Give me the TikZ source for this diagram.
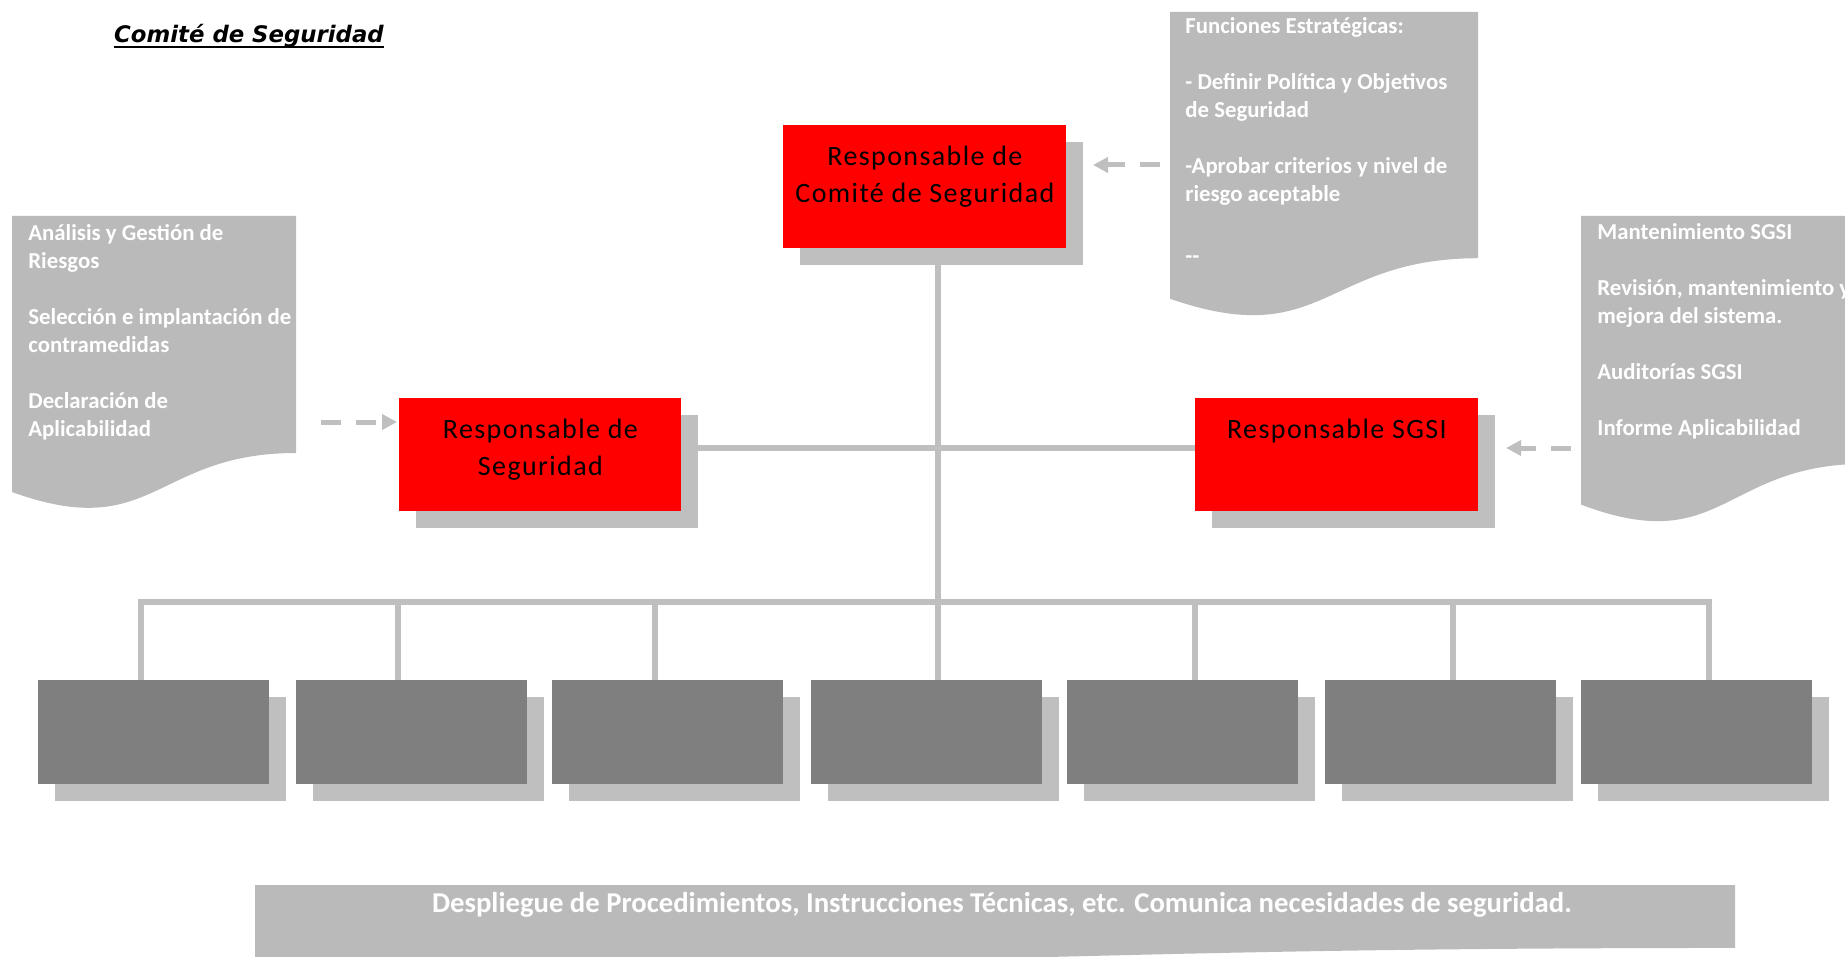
\documentclass[tikz,border=0pt]{standalone}
\usepackage{fontspec}
\usetikzlibrary{arrows.meta,shadows}
\newfontfamily\boxfont[LetterSpace=5]{Carlito}
\newfontfamily\docfont{Carlito}
\newfontfamily\titlefont{DejaVu Sans}
\definecolor{boxred}{HTML}{FF0000}
\definecolor{unitgray}{HTML}{7F7F7F}
\definecolor{shade}{HTML}{BFBFBF}
\definecolor{paper}{HTML}{BABABA}
\definecolor{wirecol}{HTML}{BFBFBF}
\pgfdeclarelayer{back}
\pgfsetlayers{back,main}

% flow-chart "document" shape: x0, y0, width, height (flat top, wavy bottom)
\newcommand\docshape[4]{%
  \fill[paper] (#1,#2) -- ({#1+#3},#2) -- ({#1+#3},{#2+0.802*#4})
    .. controls ({#1+0.5*#3},{#2+0.802*#4}) and ({#1+0.5*#3},{#2+1.108*#4})
    .. (#1,{#2+0.934*#4}) -- cycle;}

% centred caption sitting in the upper part of a red box: width, height, text
\newcommand\redtext[3]{\begin{minipage}[t][#2][t]{#1}\centering\vspace*{7pt}\strut #3\end{minipage}}

\begin{document}
\begin{tikzpicture}[x=0.5pt,y=-0.5pt,
  redbox/.style={fill=boxred, inner sep=0pt, anchor=north west,
    font=\boxfont\fontsize{14pt}{18.5pt}\selectfont,
    general shadow={fill=shade, shadow xshift=8.5pt, shadow yshift=-8.5pt}},
  unitbox/.style={fill=unitgray, inner sep=0pt, anchor=north west,
    minimum width=115.5pt, minimum height=52pt,
    general shadow={fill=shade, shadow xshift=8.5pt, shadow yshift=-8.5pt}},
  wire/.style={draw=wirecol, line width=3.25pt},
  dasharrow/.style={draw=shade, line width=2.5pt, dash pattern=on 10pt off 7.5pt,
    -{Triangle[length=7.5pt,width=7.5pt]}},
  doctext/.style={anchor=north west, inner sep=0pt, align=left, text=white,
    font=\docfont\bfseries\fontsize{11.4pt}{14pt}\selectfont},
]
\useasboundingbox (0,0) rectangle (1845,957);
\clip (0,0) rectangle (1845,957);

% title
\node[inner sep=0pt, anchor=base,
  font=\titlefont\bfseries\itshape\fontsize{11.4pt}{13pt}\selectfont] (title) at (249,42.7) {Comité de Seguridad};
\draw[line width=1pt] ([yshift=-2pt]title.base west) -- ([yshift=-2pt]title.base east);

% note sheets
\docshape{1170}{12}{308}{307}
\docshape{12}{216}{284}{295.5}
\docshape{1581}{216}{284}{309}
\docshape{255}{885}{1480}{78.5}

\node[doctext] (funtext) at (1185,13) {\rule{0pt}{10pt}Funciones Estratégicas:\\[14pt]- Definir Política y Objetivos\\de Seguridad\\[14pt]-Aprobar criterios y nivel de\\riesgo aceptable\\[17pt]-{}-};
\node[doctext] (risktext) at (28,220) {\rule{0pt}{10pt}Análisis y Gestión de\\Riesgos\\[14pt]Selección e implantación de\\contramedidas\\[14pt]Declaración de\\Aplicabilidad};
\node[doctext] (sgsitext) at (1597,219) {\rule{0pt}{10pt}Mantenimiento SGSI\\[14pt]Revisión, mantenimiento y\\mejora del sistema.\\[14pt]Auditorías SGSI\\[14pt]Informe Aplicabilidad};
\node[inner sep=0pt, anchor=base, text=white,
  font=\docfont\bfseries\fontsize{14.35pt}{17pt}\selectfont] (bannertext) at (1002,912)
  {Despliegue de Procedimientos, Instrucciones Técnicas, etc. Comunica necesidades de seguridad.};

% red responsibility boxes
\node[redbox] (top) at (783,125) {\redtext{141.5pt}{61.5pt}{Responsable de\\Comité de Seguridad}};
\node[redbox] (seg) at (399,398) {\redtext{141pt}{56.5pt}{Responsable de\\Seguridad}};
\node[redbox] (sgsi) at (1195,398) {\redtext{141.5pt}{56.5pt}{Responsable SGSI}};

% grey unit boxes
\foreach \i/\x in {1/38,2/296,3/552,4/811,5/1067,6/1325,7/1581}
  \node[unitbox] (u\i) at (\x,680) {};

% bus and drop points
\foreach \i/\x in {1/141,2/398,3/655,4/938,5/1195,6/1453,7/1709}
  \coordinate (d\i) at (\x,602);
\coordinate (mid) at (938,448);

\begin{pgfonlayer}{back}
  \fill[white] (0,0) rectangle (1845,957);
  \draw[wire] (d1 |- u1.north) -- (d1) -- (d7) -- (d7 |- u7.north);
  \foreach \i in {2,...,6}
    \draw[wire] (d\i) -- (d\i |- u\i.north);
  \draw[wire] (d4 |- top.south) -- (d4);
  \draw[wire] (seg.east |- mid) -- (sgsi.west |- mid);
\end{pgfonlayer}

% dashed feeds from the note sheets
\coordinate (funTail) at (1160,165);
\coordinate (funHead) at (1093,165);
\coordinate (riskTail) at (321,422);
\coordinate (riskHead) at (397,422);
\coordinate (sgsiTail) at (1571,448);
\coordinate (sgsiHead) at (1506,448);
\draw[dasharrow] (funTail) -- (funHead);
\draw[dasharrow] (riskTail) -- (riskHead);
\draw[dasharrow] (sgsiTail) -- (sgsiHead);
\end{tikzpicture}
\end{document}
